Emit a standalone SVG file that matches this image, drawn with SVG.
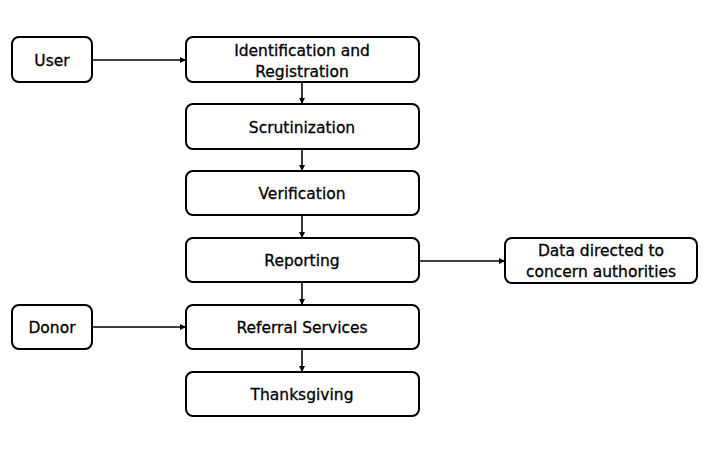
<svg xmlns="http://www.w3.org/2000/svg" width="715" height="459" viewBox="0 0 715 459">
<defs>
<style>
.box{fill:#fff;stroke:#000;stroke-width:2}
.t{font-family:"DejaVu Sans",sans-serif;font-size:15.5px;fill:#000;stroke:#000;stroke-width:0.3;text-anchor:middle;dominant-baseline:central}
.c{stroke:#000;stroke-width:1.6;fill:none;marker-end:url(#a)}
</style>
<marker id="a" viewBox="0 0 6 6" refX="6" refY="3" markerWidth="6" markerHeight="6" markerUnits="userSpaceOnUse" orient="auto"><path d="M0,0 L6,3 L0,6 z" fill="#000"/></marker>
</defs>
<rect width="715" height="459" fill="#fff"/>
<g id="connectors">
<line class="c" x1="92" y1="60" x2="186" y2="60"/>
<line class="c" x1="302" y1="82" x2="302" y2="104"/>
<line class="c" x1="302" y1="149" x2="302" y2="171"/>
<line class="c" x1="302" y1="215" x2="302" y2="238"/>
<line class="c" x1="302" y1="282" x2="302" y2="305"/>
<line class="c" x1="302" y1="349" x2="302" y2="372"/>
<line class="c" x1="419" y1="261" x2="505" y2="261"/>
<line class="c" x1="92" y1="327" x2="186" y2="327"/>
</g>
<g id="user"><rect class="box" x="12" y="37" width="80" height="45" rx="7"/><text class="t" x="52" y="61">User</text></g>
<g id="identification"><rect class="box" x="186" y="37" width="233" height="45" rx="7"/><text class="t" x="302" y="51">Identification and</text><text class="t" x="302" y="72">Registration</text></g>
<g id="scrutinization"><rect class="box" x="186" y="104" width="233" height="45" rx="7"/><text class="t" x="302" y="128">Scrutinization</text></g>
<g id="verification"><rect class="box" x="186" y="171" width="233" height="44" rx="7"/><text class="t" x="302" y="194">Verification</text></g>
<g id="reporting"><rect class="box" x="186" y="238" width="233" height="44" rx="7"/><text class="t" x="302" y="261">Reporting</text></g>
<g id="data"><rect class="box" x="505" y="238" width="192" height="45" rx="7"/><text class="t" x="601" y="251">Data directed to</text><text class="t" x="601" y="272">concern authorities</text></g>
<g id="donor"><rect class="box" x="12" y="305" width="80" height="44" rx="7"/><text class="t" x="52" y="328">Donor</text></g>
<g id="referral"><rect class="box" x="186" y="305" width="233" height="44" rx="7"/><text class="t" x="302" y="328">Referral Services</text></g>
<g id="thanksgiving"><rect class="box" x="186" y="372" width="233" height="44" rx="7"/><text class="t" x="302" y="395">Thanksgiving</text></g>
</svg>
